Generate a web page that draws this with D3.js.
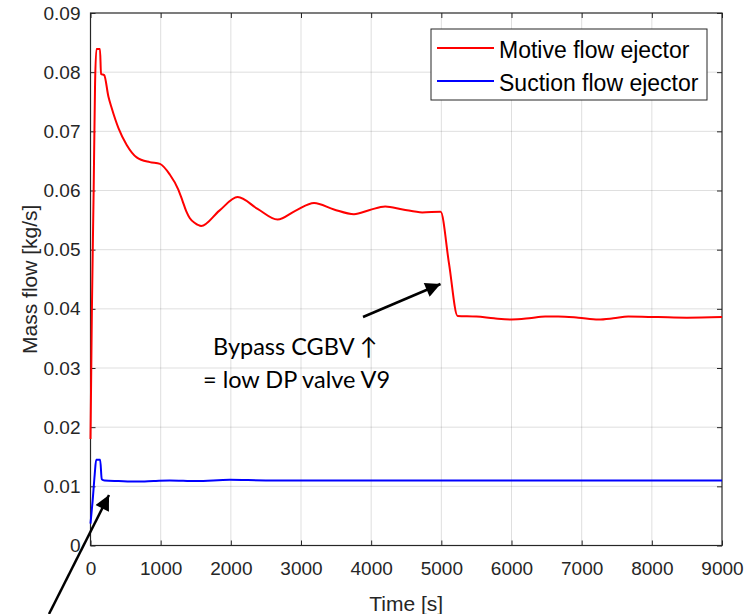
<!DOCTYPE html>
<html>
<head>
<meta charset="utf-8">
<script src="https://cdn.jsdelivr.net/npm/d3@7"></script>
<style>
  body { margin: 0; background: #fff; }
  svg { display: block; }
  .tick text { font-family: "Liberation Sans", Arial, Helvetica, sans-serif; font-size: 19px; fill: #262626; }
  .tick line { stroke: #262626; }
</style>
</head>
<body>
<script>
// set the dimensions of the figure and the plot box
const SCREEN = {
    width: 745,
    height: 614,
    left: 90.5,
    right: 722,
    top: 13,
    bottom: 545.5
}

// Motive flow (red)
const motiveTime = [0, 20, 45, 65, 85, 135, 150, 195, 255, 303, 400, 516, 658, 845, 990, 1130, 1250, 1310,
    1364, 1416, 1487, 1577, 1837, 2097, 2381, 2665, 2925, 3186, 3470, 3755, 3980, 4200, 4450, 4728,
    4990, 5110, 5231, 5500, 5750, 6002, 6250, 6480, 6665, 6953, 7238, 7450, 7663, 8089, 8500, 9000];
const motiveFlow = [0.0180, 0.0400, 0.0600, 0.0780, 0.0839, 0.0839, 0.0797, 0.0795, 0.0759, 0.0739, 0.0705,
    0.0677, 0.0656, 0.0648, 0.0645, 0.0627, 0.0602, 0.0583, 0.0565, 0.0553, 0.0545, 0.0540, 0.0566,
    0.0589, 0.0569, 0.0551, 0.0566, 0.0579, 0.0568, 0.0560, 0.0567, 0.0573, 0.0568, 0.0563, 0.0564,
    0.0476, 0.0388, 0.0387, 0.0384, 0.0382, 0.0384, 0.0387, 0.0387, 0.0385, 0.0382, 0.0384, 0.0387,
    0.0386, 0.0385, 0.0386];

// Suction flow (blue)
const suctionTime = [0, 30, 60, 81, 138, 160, 200, 400, 660, 900, 1130, 1510, 1985, 2500, 3000, 4000,
    5000, 6000, 7000, 8000, 9000];
const suctionFlow = [0.0037, 0.0075, 0.0120, 0.0145, 0.0145, 0.0112, 0.0110, 0.0109, 0.0108, 0.0109,
    0.0110, 0.0109, 0.0111, 0.0110, 0.0110, 0.0110, 0.0110, 0.0110, 0.0110, 0.0110, 0.0110];

const xTicks = [0, 1000, 2000, 3000, 4000, 5000, 6000, 7000, 8000, 9000];
const yTicks = [0, 0.01, 0.02, 0.03, 0.04, 0.05, 0.06, 0.07, 0.08, 0.09];

const seriesNames = ["Motive flow ejector", "Suction flow ejector"];
const seriesColors = ["#ff0000", "#0000ff"];

const FONT = '"Liberation Sans", Arial, Helvetica, sans-serif';
const AXIS_COLOR = "#262626";

var svg = d3.select("body").append("svg")
    .attr("width", SCREEN.width)
    .attr("height", SCREEN.height);

var x = d3.scaleLinear().domain([0, 9000]).range([SCREEN.left, SCREEN.right]);
var y = d3.scaleLinear().domain([0, 0.09]).range([SCREEN.bottom, SCREEN.top]);

// grid
svg.append("g")
    .selectAll("line")
    .data(xTicks.slice(1, -1))
    .join("line")
    .attr("x1", d => x(d)).attr("x2", d => x(d))
    .attr("y1", SCREEN.top).attr("y2", SCREEN.bottom)
    .attr("stroke", AXIS_COLOR).attr("stroke-opacity", 0.15);
svg.append("g")
    .selectAll("line")
    .data(yTicks.slice(1, -1))
    .join("line")
    .attr("y1", d => y(d)).attr("y2", d => y(d))
    .attr("x1", SCREEN.left).attr("x2", SCREEN.right)
    .attr("stroke", AXIS_COLOR).attr("stroke-opacity", 0.15);

// axes (ticks pointing inward on all four sides)
const fmtY = d => d === 0 ? "0" : d3.format(".2f")(d);
svg.append("g")
    .attr("transform", `translate(0,${SCREEN.bottom})`)
    .call(d3.axisBottom(x).tickValues(xTicks).tickSize(-5).tickPadding(16).tickFormat(d3.format("d")))
    .call(g => g.select(".domain").remove());
svg.append("g")
    .attr("transform", `translate(0,${SCREEN.top})`)
    .call(d3.axisTop(x).tickValues(xTicks).tickSize(-5).tickFormat(""))
    .call(g => g.select(".domain").remove());
svg.append("g")
    .attr("transform", `translate(${SCREEN.left},0)`)
    .call(d3.axisLeft(y).tickValues(yTicks).tickSize(-5).tickPadding(10).tickFormat(fmtY))
    .call(g => g.select(".domain").remove());
svg.append("g")
    .attr("transform", `translate(${SCREEN.right},0)`)
    .call(d3.axisRight(y).tickValues(yTicks).tickSize(-5).tickFormat(""))
    .call(g => g.select(".domain").remove());

svg.append("rect")
    .attr("x", SCREEN.left).attr("y", SCREEN.top)
    .attr("width", SCREEN.right - SCREEN.left)
    .attr("height", SCREEN.bottom - SCREEN.top)
    .attr("fill", "none").attr("stroke", AXIS_COLOR).attr("stroke-width", 1.2);

// axis labels
svg.append("text")
    .attr("x", (SCREEN.left + SCREEN.right) / 2)
    .attr("y", 611)
    .attr("text-anchor", "middle")
    .attr("font-family", FONT).attr("font-size", 21).attr("fill", AXIS_COLOR)
    .text("Time [s]");
svg.append("text")
    .attr("transform", `translate(37,${(SCREEN.top + SCREEN.bottom) / 2}) rotate(-90)`)
    .attr("text-anchor", "middle")
    .attr("font-family", FONT).attr("font-size", 21).attr("fill", AXIS_COLOR)
    .text("Mass flow [kg/s]");

// lines
const line = d3.line().curve(d3.curveMonotoneX);
const series = [
    d3.zip(motiveTime, motiveFlow),
    d3.zip(suctionTime, suctionFlow)
];
svg.append("g")
    .selectAll("path")
    .data(series)
    .join("path")
    .attr("fill", "none")
    .attr("stroke", (d, i) => seriesColors[i])
    .attr("stroke-width", 2)
    .attr("stroke-linejoin", "round")
    .attr("d", d => line(d.map(([t, v]) => [x(t), y(v)])));

// legend
const legend = svg.append("g");
legend.append("rect")
    .attr("x", 431).attr("y", 29).attr("width", 276).attr("height", 71)
    .attr("fill", "#fff").attr("stroke", AXIS_COLOR).attr("stroke-width", 1);
const rows = legend.selectAll("g")
    .data(seriesNames)
    .join("g")
    .attr("transform", (d, i) => `translate(0,${48 + i * 33})`);
rows.append("line")
    .attr("x1", 437).attr("x2", 494)
    .attr("stroke", (d, i) => seriesColors[i]).attr("stroke-width", 2);
rows.append("text")
    .attr("x", 499).attr("y", 10)
    .attr("font-family", FONT).attr("font-size", 23).attr("fill", "#000")
    .text(d => d);

// annotations
svg.append("defs").append("marker")
    .attr("id", "head")
    .attr("viewBox", "0 0 10 10")
    .attr("refX", 10).attr("refY", 5)
    .attr("markerWidth", 7).attr("markerHeight", 6)
    .attr("markerUnits", "strokeWidth")
    .attr("orient", "auto")
    .append("path").attr("d", "M0,0L10,5L0,10z").attr("fill", "#000");

const arrows = [
    [[363, 317], [440.5, 284]],
    [[49, 614], [109, 495]]
];
svg.append("g")
    .selectAll("line")
    .data(arrows)
    .join("line")
    .attr("x1", d => d[0][0]).attr("y1", d => d[0][1])
    .attr("x2", d => d[1][0]).attr("y2", d => d[1][1])
    .attr("stroke", "#000").attr("stroke-width", 2.5)
    .attr("marker-end", "url(#head)");

const noteLines = [["Bypass CGBV \u2191", 213, 355], ["= low DP valve V9", 203, 388]];
svg.append("g")
    .selectAll("text")
    .data(noteLines)
    .join("text")
    .attr("x", d => d[1]).attr("y", d => d[2])
    .attr("font-family", "Lato, 'Open Sans', sans-serif").attr("font-size", 23.5).attr("fill", "#000")
    .text(d => d[0]);
</script>
</body>
</html>
